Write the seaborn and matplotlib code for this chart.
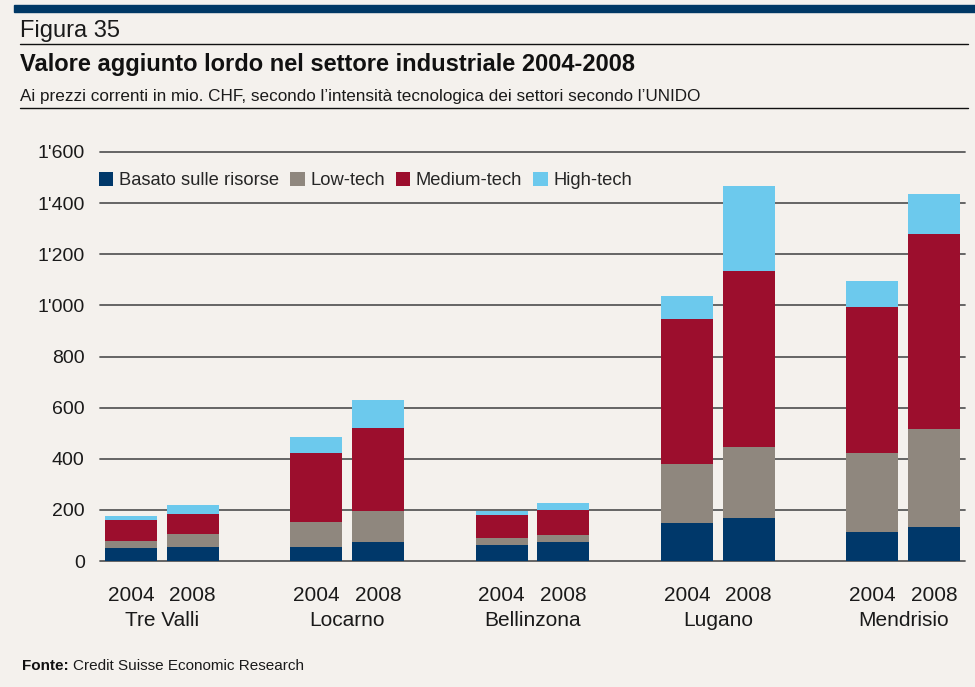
import numpy as np
import pandas as pd
import matplotlib
matplotlib.use("Agg")
import matplotlib.pyplot as plt
from matplotlib.patches import Patch, Rectangle
from matplotlib.ticker import FuncFormatter
import seaborn as sns

# data (mio. CHF)
regions = ["Tre Valli", "Locarno", "Bellinzona", "Lugano", "Mendrisio"]
years = ["2004", "2008"]
sectors = ["Basato sulle risorse", "Low-tech", "Medium-tech", "High-tech"]
basato = [51, 55, 55, 74, 63, 74, 148, 168, 113, 133]
low_tech = [27, 51, 97, 122, 27, 28, 231, 278, 309, 383]
medium_tech = [82, 78, 270, 324, 90, 97, 567, 688, 571, 763]
high_tech = [16, 35, 63, 110, 16, 28, 90, 332, 102, 156]
yticks = [0, 200, 400, 600, 800, 1000, 1200, 1400, 1600]

colors = ["#00386a", "#8f877e", "#9c0e2d", "#6cc9ed"]
bg = "#f4f1ed"

rows = []
for i, (b, l, m, h) in enumerate(zip(basato, low_tech, medium_tech, high_tech)):
    g, y = divmod(i, 2)
    rows.append({"region": regions[g], "year": years[y], "pos": 3 * g + y,
                 "Basato sulle risorse": b, "Low-tech": l, "Medium-tech": m, "High-tech": h})
df = pd.DataFrame(rows)
cum = df[sectors].cumsum(axis=1)

sns.set_theme(style="white")
plt.rcParams["font.family"] = ["Liberation Sans Narrow", "Liberation Sans", "DejaVu Sans"]

fig = plt.figure(figsize=(9.75, 6.87), dpi=100, facecolor=bg)
ax = fig.add_axes([100 / 975, 1 - 561 / 687, 865 / 975, 409 / 687])
ax.set_facecolor(bg)

# grid first, bars on top
for v in yticks:
    ax.axhline(v, color="#5a5a5a", lw=1.3, zorder=0, clip_on=False)

# stacked bars: draw cumulative totals from the top layer down
for k in range(len(sectors) - 1, -1, -1):
    sns.barplot(x=df["pos"], y=cum[sectors[k]], native_scale=True, width=0.84,
                color=colors[k], saturation=1, errorbar=None, linewidth=0,
                edgecolor="none", ax=ax, zorder=2)

ax.set_xlim(-0.5, 13.5)
ax.set_ylim(0, 1600)
ax.set_xlabel("")
ax.set_ylabel("")
for s in ax.spines.values():
    s.set_visible(False)

ax.set_yticks(yticks)
ax.yaxis.set_major_formatter(FuncFormatter(lambda v, p: f"{v:,.0f}".replace(",", "'")))
ax.tick_params(axis="y", length=0, pad=11, labelsize=14, labelcolor="#1a1a1a")

ax.set_xticks(df["pos"])
ax.set_xticklabels(df["year"])
ax.tick_params(axis="x", which="major", length=0, pad=18, labelsize=15, labelcolor="#1a1a1a")
ax.set_xticks(np.arange(-0.5, 14, 2), minor=True)
ax.tick_params(axis="x", which="minor", length=7, width=1.3, color="#333333", direction="out")

for g, name in enumerate(regions):
    ax.text(3 * g + 0.5, -0.145, name, transform=ax.get_xaxis_transform(),
            ha="center", va="center", fontsize=15, color="#1a1a1a")

handles = [Patch(facecolor=c, edgecolor="none") for c in colors]
ax.legend(handles, sectors, loc="upper left", bbox_to_anchor=(-0.01, 0.97), ncol=4,
          frameon=False, fontsize=13.2, handlelength=0.8, handleheight=0.8,
          handletextpad=0.3, columnspacing=0.6, borderaxespad=0)

# header
fig.patches.append(Rectangle((14 / 975, 1 - 12 / 687), 961 / 975, 7 / 687,
                             transform=fig.transFigure, color="#003865", zorder=5))
fig.text(20 / 975, 1 - 37 / 687, "Figura 35", fontsize=17, color="#1a1a1a", va="baseline")
fig.add_artist(plt.Line2D([20 / 975, 968 / 975], [1 - 44 / 687] * 2, color="#111111", lw=1))
fig.text(20 / 975, 1 - 71 / 687, "Valore aggiunto lordo nel settore industriale 2004-2008",
         fontsize=17, fontweight="bold", color="#111111", va="baseline")
fig.text(20 / 975, 1 - 101 / 687,
         "Ai prezzi correnti in mio. CHF, secondo l\u2019intensità tecnologica dei settori secondo l\u2019UNIDO",
         fontsize=12.3, color="#1a1a1a", va="baseline")
fig.add_artist(plt.Line2D([20 / 975, 968 / 975], [1 - 108 / 687] * 2, color="#111111", lw=1))

# footer
t = fig.text(22 / 975, 1 - 670 / 687, "Fonte:", fontsize=11, fontweight="bold",
             color="#111111", va="baseline")
fig.canvas.draw()
bb = t.get_window_extent()
fig.text(bb.x1 / fig.bbox.width + 4 / 975, 1 - 670 / 687, "Credit Suisse Economic Research",
         fontsize=11, color="#1a1a1a", va="baseline")

fig.savefig("out.png", dpi=100, facecolor=bg)
